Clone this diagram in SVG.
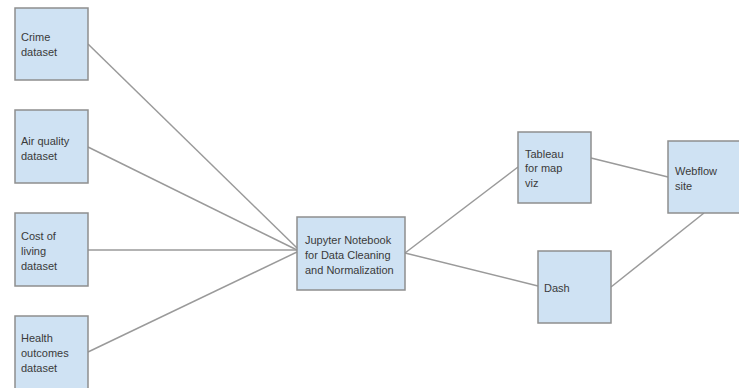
<svg xmlns="http://www.w3.org/2000/svg" width="739" height="388" viewBox="0 0 739 388">
<style>
.box{fill:#cfe2f3;stroke:#8e8e8e;stroke-width:1.5}
.lbl{font-family:"Liberation Sans",Arial,sans-serif;font-size:11px;fill:#3a3a3a}
.conn{stroke:#9a9a9a;stroke-width:1.5;fill:none}
</style>
<rect width="739" height="388" fill="#ffffff"/>
<g id="connectors">
<line class="conn" x1="88" y1="44" x2="297" y2="248"/>
<line class="conn" x1="88" y1="147" x2="297" y2="250"/>
<line class="conn" x1="88" y1="250" x2="297" y2="250"/>
<line class="conn" x1="88" y1="352" x2="297" y2="252"/>
<line class="conn" x1="405" y1="253" x2="518" y2="167"/>
<line class="conn" x1="405" y1="253" x2="538" y2="286"/>
<line class="conn" x1="591" y1="158" x2="668" y2="177"/>
<line class="conn" x1="611" y1="287" x2="704" y2="213"/>
</g>
<g id="crime">
<rect class="box" x="15" y="8" width="73" height="72"/>
<text class="lbl" x="21" y="41">Crime</text>
<text class="lbl" x="21" y="56">dataset</text>
</g>
<g id="air">
<rect class="box" x="15" y="110" width="73" height="73"/>
<text class="lbl" x="21" y="145">Air quality</text>
<text class="lbl" x="21" y="160">dataset</text>
</g>
<g id="cost">
<rect class="box" x="15" y="213" width="73" height="73"/>
<text class="lbl" x="21" y="240">Cost of</text>
<text class="lbl" x="21" y="255">living</text>
<text class="lbl" x="21" y="270">dataset</text>
</g>
<g id="health">
<rect class="box" x="15" y="316" width="73" height="73"/>
<text class="lbl" x="21" y="342">Health</text>
<text class="lbl" x="21" y="357">outcomes</text>
<text class="lbl" x="21" y="372">dataset</text>
</g>
<g id="jupyter">
<rect class="box" x="297" y="217" width="108" height="73"/>
<text class="lbl" x="305" y="244">Jupyter Notebook</text>
<text class="lbl" x="305" y="259">for Data Cleaning</text>
<text class="lbl" x="305" y="274">and Normalization</text>
</g>
<g id="tableau">
<rect class="box" x="518" y="132" width="73" height="71"/>
<text class="lbl" x="525" y="158">Tableau</text>
<text class="lbl" x="525" y="172">for map</text>
<text class="lbl" x="525" y="187">viz</text>
</g>
<g id="dash">
<rect class="box" x="538" y="251" width="73" height="72"/>
<text class="lbl" x="544" y="292">Dash</text>
</g>
<g id="webflow">
<rect class="box" x="668" y="141" width="72" height="72"/>
<text class="lbl" x="675" y="175">Webflow</text>
<text class="lbl" x="675" y="190">site</text>
</g>
</svg>
